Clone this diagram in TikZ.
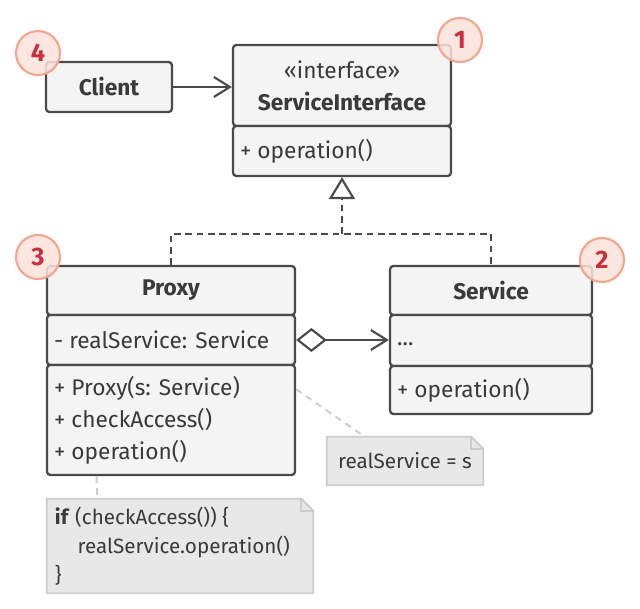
\documentclass[tikz,border=0pt]{standalone}
\usepackage{fontspec}
\setmainfont{Fira Sans}
\usetikzlibrary{arrows.meta,backgrounds}
\definecolor{boxfill}{HTML}{F4F4F4}
\definecolor{boxline}{HTML}{4A4A4A}
\definecolor{txt}{HTML}{3A3A3A}
\definecolor{notefill}{HTML}{E8E8E8}
\definecolor{noteline}{HTML}{CDCDCD}
\definecolor{badgefill}{HTML}{FCE3DB}
\definecolor{badgering}{HTML}{F5A58F}
\definecolor{badgenum}{HTML}{C9303B}
\begin{document}
\begin{tikzpicture}[x=0.75pt, y=-0.75pt,
    font=\fontsize{17pt}{24pt}\selectfont, text=txt,
    part/.style={draw=boxline, fill=boxfill, line width=1.7pt, rounded corners=2.5pt, inner sep=0pt},
    title/.style={font=\fontsize{17pt}{24pt}\selectfont\bfseries},
    member/.style={anchor=west, align=left, inner sep=0pt},
    notebox/.style={inner sep=0pt, font=\fontsize{15.5pt}{21.75pt}\selectfont},
    notebg/.style={draw=noteline, fill=notefill, line width=1.4pt},
    badge/.style={circle, draw=badgering, fill=badgefill, fill opacity=0.85, text opacity=1, line width=1.6pt, minimum size=33pt, inner sep=0pt, text=badgenum, font=\fontsize{19pt}{19pt}\selectfont\bfseries},
    link/.style={draw=boxline, line width=1.6pt},
    realize/.style={link, dash pattern=on 5pt off 3.5pt},
    notelink/.style={draw=noteline, line width=1.5pt, dash pattern=on 5pt off 4pt}]
    \useasboundingbox (0,0) rectangle (640,609);

    % Client
    \node[part, title, minimum width=94.5pt, minimum height=37.5pt] (client) at (109,87) {Client};

    % ServiceInterface
    \node[part, align=center, minimum width=163.5pt, minimum height=60.75pt] (siHead) at (342,85.5) {«interface»\\\textbf{ServiceInterface}};
    \node[part, minimum width=163.5pt, minimum height=37.5pt] (siOps) at (342,151) {};
    \node[member] (siOpsTxt) at ([xshift=6pt]siOps.west) {+ operation()};

    % Proxy
    \node[part, title, minimum width=186pt, minimum height=36.75pt] (proxyHead) at (171,290.5) {Proxy};
    \node[part, minimum width=186pt, minimum height=37.5pt] (proxyAttr) at (171,340) {};
    \node[member] (proxyAttrTxt) at ([xshift=6pt]proxyAttr.west) {- realService: Service};
    \node[part, minimum width=186pt, minimum height=82.5pt] (proxyOps) at (171,420) {};
    \node[member] (proxyOpsTxt) at ([xshift=6pt]proxyOps.west) {+ Proxy(s: Service)\\+ checkAccess()\\+ operation()};

    % Service
    \node[part, title, minimum width=151.5pt, minimum height=36.75pt] (svcHead) at (491,290.5) {Service};
    \node[part, minimum width=151.5pt, minimum height=38.25pt] (svcAttr) at (491,340.5) {};
    \node[member] (svcAttrTxt) at ([xshift=6pt]svcAttr.west) {\vphantom{Ap}...};
    \node[part, minimum width=151.5pt, minimum height=36pt] (svcOps) at (491,390) {};
    \node[member] (svcOpsTxt) at ([xshift=6pt]svcOps.west) {+ operation()};

    % Ghi chú
    \node[notebox, minimum width=117pt, minimum height=36pt] (note1) at (405,461) {realService = s};
    \node[notebox, minimum width=199.5pt, minimum height=70.5pt] (note2) at (180,546) {};
    \node[member, font=\fontsize{15.5pt}{21.75pt}\selectfont] (note2Txt) at ([xshift=6pt]note2.west) {\textbf{if} (checkAccess()) \{\\\hspace*{17pt}realService.operation()\\\}};
    \begin{scope}[on background layer]
        \draw[notebg] (note1.south west) -- (note1.north west) -- ([xshift=-9pt]note1.north east) -- ([yshift=-9pt]note1.north east) -- (note1.south east) -- cycle;
        \draw[notebg, fill=none] ([xshift=-9pt]note1.north east) |- ([yshift=-9pt]note1.north east);
        \draw[notebg] (note2.south west) -- (note2.north west) -- ([xshift=-9pt]note2.north east) -- ([yshift=-9pt]note2.north east) -- (note2.south east) -- cycle;
        \draw[notebg, fill=none] ([xshift=-9pt]note2.north east) |- ([yshift=-9pt]note2.north east);
    \end{scope}

    % Quan hệ
    \draw[link, -{Straight Barb[length=12pt, width=15pt]}] (client.east) -- (client.east -| siHead.west);
    \coordinate (split) at (342,234);
    \draw[realize] (proxyHead.north) |- (split) -| (svcHead.north);
    \draw[realize, -{Triangle[fill=white, length=16.5pt, width=19.5pt]}] (split) -- (siOps.south);
    \draw[link, {Diamond[fill=white, length=23pt, width=18pt]}-{Straight Barb[length=12pt, width=15pt]}] (proxyAttr.east) -- (proxyAttr.east -| svcAttr.west);
    \draw[notelink] ([yshift=-19pt]proxyOps.north east) -- ([xshift=28.5pt]note1.north west);
    \draw[notelink] ([xshift=38pt]proxyOps.south west) -- ([xshift=38pt]note2.north west);

    % Số thứ tự
    \node[badge] (b1) at (460,40) {1};
    \node[badge] (b2) at (602,260) {2};
    \node[badge] (b3) at (38,257) {3};
    \node[badge] (b4) at (38,53) {4};
\end{tikzpicture}
\end{document}
